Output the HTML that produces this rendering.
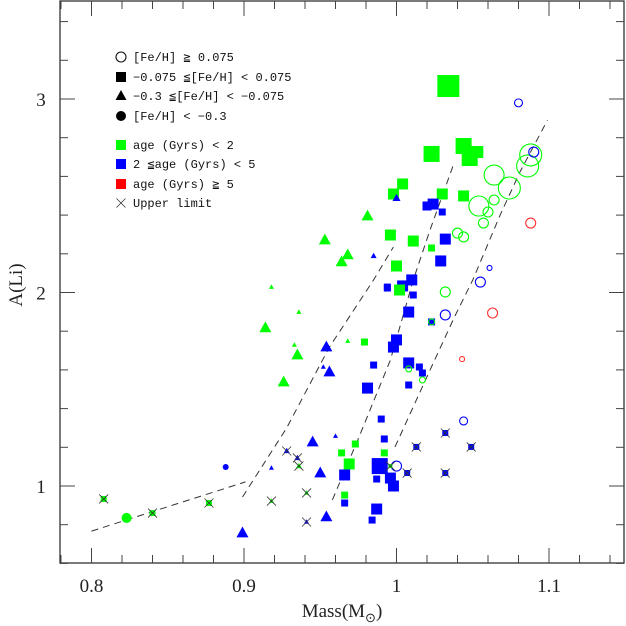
<!DOCTYPE html>
<html><head><meta charset="utf-8"><style>
html,body{margin:0;padding:0;background:#fff;}
svg{display:block;}
.tk{font-family:"Liberation Serif",serif;font-size:19px;fill:#222;}
.lg{font-family:"Liberation Mono",monospace;font-size:12px;fill:#111;}
</style></head><body>
<svg id="chart" width="626" height="626" viewBox="0 0 626 626" xmlns="http://www.w3.org/2000/svg">
<g id="grid"></g>
<g id="curves"></g>
<g id="marks"></g>
<g id="legend"></g>
<text class="tk" x="342" y="617" text-anchor="middle">Mass(M<tspan font-size="13" dy="5">⊙</tspan><tspan dy="-5">)</tspan></text>
<text class="tk" transform="translate(22,285) rotate(-90)" text-anchor="middle">A(Li)</text>
</svg>
<script>
const xTicks=[0.8,0.9,1.0,1.1];
const xTickLabels=["0.8","0.9","1","1.1"];
const yTicks=[1,2,3];
const yTickLabels=["1","2","3"];
const mass=[1.034,1.080,1.023,1.044,1.053,1.048,1.064,1.074,1.088,1.086,
1.090,1.004,0.998,1.000,1.030,1.044,1.024,1.020,1.030,1.054,
1.064,1.060,1.057,1.088,0.981,0.996,1.011,1.023,1.032,1.040,
1.044,0.968,0.964,0.953,0.985,1.029,1.000,1.010,1.004,0.994,
1.002,1.011,1.032,1.055,1.061,1.063,1.032,0.918,0.936,0.994,
1.008,1.023,1.023,0.914,0.933,0.935,0.954,0.968,0.979,1.000,
0.998,0.952,0.956,0.985,1.008,1.008,1.015,1.017,1.043,0.926,
1.008,1.017,0.981,0.990,1.044,0.945,0.960,0.992,1.032,1.013,
1.049,1.007,1.032,0.928,0.935,0.936,0.973,0.964,0.992,0.969,
0.989,1.000,0.996,0.950,0.966,0.987,0.996,0.998,0.918,0.888,
0.966,0.966,0.918,0.941,0.987,0.984,0.954,0.941,0.899,0.808,
0.840,0.877,0.823];
const ali=[3.067,2.98,2.716,2.757,2.726,2.695,2.607,2.540,2.711,2.654,
2.726,2.561,2.509,2.488,2.509,2.499,2.457,2.447,2.416,2.447,
2.478,2.416,2.359,2.359,2.395,2.297,2.266,2.230,2.276,2.307,
2.287,2.194,2.158,2.271,2.189,2.163,2.137,2.065,2.034,2.023,
2.013,1.987,2.003,2.054,2.127,1.894,1.884,2.028,1.899,2.028,
1.899,1.848,1.848,1.817,1.729,1.677,1.718,1.749,1.744,1.755,
1.718,1.615,1.589,1.625,1.636,1.605,1.615,1.584,1.656,1.537,
1.522,1.548,1.506,1.346,1.336,1.227,1.258,1.243,1.274,1.202,
1.202,1.067,1.067,1.181,1.145,1.103,1.217,1.171,1.171,1.114,
1.103,1.103,1.103,1.067,1.057,1.036,1.041,1.000,1.093,1.098,
0.953,0.912,0.922,0.964,0.881,0.824,0.840,0.814,0.757,0.933,
0.860,0.912,0.835];
const feClass=["s","o","s","s","s","s","o","o","o","o",
"o","s","s","t","s","s","s","s","s","o",
"o","o","o","o","t","s","s","s","s","o",
"o","t","t","t","t","s","s","s","s","s",
"s","s","o","o","o","o","o","t","t","s",
"s","s","o","t","t","t","t","t","s","s",
"s","t","t","s","s","o","s","s","o","t",
"s","o","s","s","o","t","t","s","s","s",
"s","s","s","t","t","t","s","s","s","s",
"s","o","s","t","s","s","s","s","t","c",
"s","s","t","t","s","s","t","t","t","s",
"s","s","c"];
const ageClass=["g","b","g","g","g","g","g","g","g","g",
"b","g","g","b","g","g","b","b","b","g",
"g","g","g","r","g","g","g","g","b","g",
"g","g","g","g","b","b","g","b","b","b",
"g","b","g","b","b","r","b","g","g","b",
"b","b","g","g","g","g","b","g","g","b",
"b","b","b","b","b","g","b","b","r","g",
"b","g","b","b","b","b","b","b","b","b",
"b","b","b","b","b","g","g","g","g","g",
"b","b","g","b","b","b","b","b","b","b",
"g","b","g","g","b","b","b","b","b","g",
"g","g","g"];
const markSize=[22,4,16,16,12,16,10,11,11,11,
5,11,11,8,11,11,11,9,7,10,
5,5,5,5,12,11,11,7,11,5,
5,12,12,12,6,11,11,11,11,7,
11,7,5,5,2.5,5,5,5,5,7,
11,7,3,12,5,12,12,5,7,11,
11,5,12,7,11,3,7,7,2.5,12,
7,3,11,7,4,12,5,7,6,6,
6,6,6,6,6,6,7,7,7,11,
16,5,4,12,11,7,11,11,5,3,
7,7,5,5,11,7,12,5,12,6,
6,6,5];
const upperLimit=[79,80,81,82,83,84,85,86,93,103,104,108,110,111,112];
const curve0M=[0.800,0.901], curve0A=[0.767,1.021];
const curve1M=[0.899,0.928,0.956,0.985,0.998], curve1A=[0.943,1.300,1.718,2.065,2.235];
const curve2M=[0.958,0.976,0.996,1.011,1.022,1.038], curve2A=[0.928,1.264,1.651,2.065,2.323,2.674];
const curve3M=[0.999,1.022,1.038,1.050,1.068,1.081,1.099], curve3A=[1.202,1.599,1.873,2.065,2.401,2.623,2.891];

const NS="http://www.w3.org/2000/svg";
const X0=60,X1=624,Y0=1,Y1=563;
const xs=m=>91.5+(m-0.8)*1525;
const ys=a=>486-(a-1)*193.5;
const col={g:"#00ff00",b:"#0000ff",r:"#ff3030"};
function mk(tag,attrs,parent){const e=document.createElementNS(NS,tag);for(const k in attrs)e.setAttribute(k,attrs[k]);parent.appendChild(e);return e;}
const grid=document.getElementById('grid');
const fr=mk('rect',{x:X0,y:Y0,width:X1-X0,height:Y1-Y0,fill:'none',stroke:'#333','stroke-width':1.3},grid);


for(let k=0;k<=18;k++){const m=0.78+k*0.02;const x=xs(m);const major=(k%5)===1;const L=major?15:8;
 mk('line',{x1:x,y1:Y1,x2:x,y2:Y1-L,stroke:'#444'},grid);mk('line',{x1:x,y1:Y0,x2:x,y2:Y0+L,stroke:'#444'},grid);}
for(let k=0;k<=14;k++){const a=0.6+k*0.2;const y=ys(a);const major=(k%5)===2;const L=major?15:8;
 mk('line',{x1:X0,y1:y,x2:X0+L,y2:y,stroke:'#444'},grid);mk('line',{x1:X1,y1:y,x2:X1-L,y2:y,stroke:'#444'},grid);}
xTicks.forEach((t,i)=>{const e=mk('text',{x:xs(t),y:592,'text-anchor':'middle',class:'tk'},grid);e.textContent=xTickLabels[i];
 
 });
yTicks.forEach((t,i)=>{const e=mk('text',{x:41,y:ys(t)+7,'text-anchor':'middle',class:'tk'},grid);e.textContent=yTickLabels[i];
 
 });
const cg=document.getElementById('curves');
[[curve0M,curve0A],[curve1M,curve1A],[curve2M,curve2A],[curve3M,curve3A]].forEach((c,i)=>{
 const d=c[0].map((m,j)=>(j?'L':'M')+xs(m).toFixed(1)+' '+ys(c[1][j]).toFixed(1)).join(' ');
 const p=mk('path',{d:d,fill:'none',stroke:'#333','stroke-width':1,'stroke-dasharray':'7 5'},cg);
 
 });
function marker(parent,shape,c,s,x,y){let e;
 if(shape==='s')e=mk('rect',{x:x-s/2,y:y-s/2,width:s,height:s,fill:c},parent);
 else if(shape==='t'){const h=s*0.9;e=mk('polygon',{points:`${x},${y-h*0.6} ${x-s/2},${y+h*0.4} ${x+s/2},${y+h*0.4}`,fill:c},parent);}
 else if(shape==='c')e=mk('circle',{cx:x,cy:y,r:s,fill:c},parent);
 else e=mk('circle',{cx:x,cy:y,r:s,fill:'none',stroke:c,'stroke-width':1.1},parent);
 return e;}
function cross(parent,x,y){const r=4.5;const g=mk('g',{stroke:'#333','stroke-width':0.8},parent);
 mk('line',{x1:x-r,y1:y-r,x2:x+r,y2:y+r},g);mk('line',{x1:x-r,y1:y+r,x2:x+r,y2:y-r},g);return g;}
const mg=document.getElementById('marks');
mass.forEach((m,i)=>{const x=xs(m),y=ys(ali[i]);
 const e=marker(mg,feClass[i],col[ageClass[i]],markSize[i],x,y);
 
 
 if(upperLimit.includes(i+1)){const c=cross(mg,x,y);
  
  }});
const lg=document.getElementById('legend');
const items=[["o","#111","[Fe/H] ≧ 0.075",57],["s","#000","−0.075 ≦[Fe/H] < 0.075",77],["t","#000","−0.3 ≦[Fe/H] < −0.075",96],["c","#000","[Fe/H] < −0.3",116],
["s","#00ff00","age (Gyrs) < 2",145],["s","#0000ff","2 ≦age (Gyrs) < 5",164],["s","#ff0000","age (Gyrs) ≧ 5",184],["x","#333","Upper limit",203]];
items.forEach(it=>{let e;
 if(it[0]==='x')e=cross(lg,121,it[3]);
 else e=marker(lg,it[0],it[1],it[0]==='o'||it[0]==='c'?5:(it[0]==='t'?11:10),121,it[3]);
 
 
 const t=mk('text',{x:133,y:it[3]+4,class:'lg'},lg);t.textContent=it[2];
 
 });
</script>
</body></html>
